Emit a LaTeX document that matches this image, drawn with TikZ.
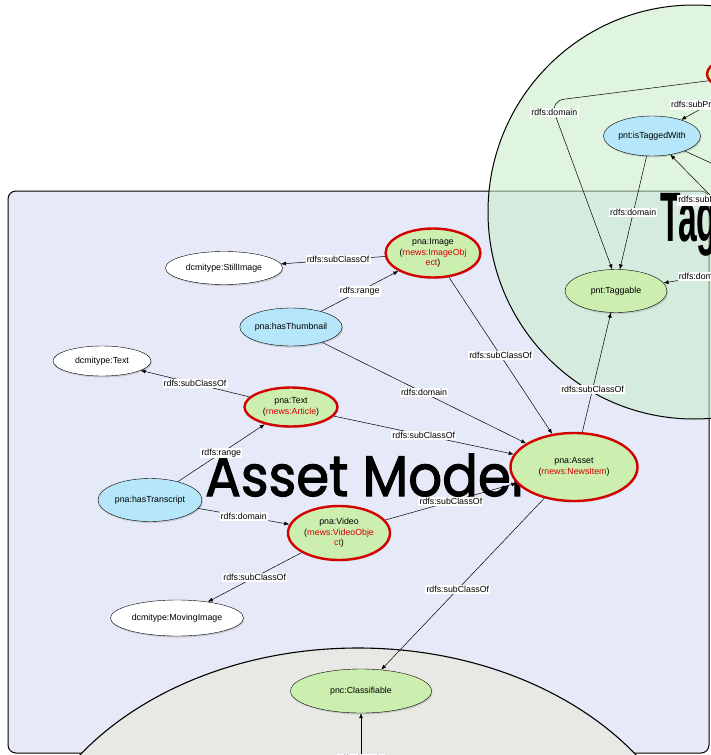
\documentclass[tikz,border=0pt]{standalone}
\usepackage{fontspec}
\setmainfont{Liberation Sans}
\newfontfamily\titlefont[FakeBold=2]{Poppins}
\usetikzlibrary{positioning,shapes.geometric,arrows.meta,shadows}

\definecolor{clsgreen}{HTML}{CCEEAF}
\definecolor{propblue}{HTML}{B5E6F9}
\definecolor{rnred}{HTML}{D40000}
\definecolor{boxfill}{HTML}{E6E9F7}
\definecolor{grayfill}{HTML}{E8E9E5}
\definecolor{taggreen}{HTML}{C8EEC8}
\newcommand\rnw[1]{\textcolor{rnred}{#1}}

\begin{document}
\begin{tikzpicture}[x=1pt,y=-1pt,
  every node/.style={font=\fontsize{8.8}{10.5}\selectfont},
  dshadow/.style={drop shadow={shadow xshift=1pt,shadow yshift=-1.5pt,opacity=.3}},
  sz/.style 2 args={minimum width=#1,minimum height=#2},
  cls/.style={ellipse,draw,fill=clsgreen,inner sep=0pt,align=center,dshadow},
  rnode/.style={cls,draw=rnred,line width=2.4pt},
  prop/.style={cls,fill=propblue},
  ext/.style={cls,fill=white},
  lbl/.style={fill=white,draw=none,inner sep=1.2pt},
  conn/.style={-{Latex[length=5pt,width=4pt]},line width=.5pt}]
  \useasboundingbox (0,0) rectangle (711,755);
  \clip (0,0) rectangle (711,755);
  \fill[white] (0,0) rectangle (711,755);

  % --- Regions ---
  \draw[fill=boxfill,rounded corners=8pt,line width=1pt] (8,191) rectangle (709,753);
  \draw[fill=grayfill,line width=1.1pt] (358,904) ellipse [x radius=342,y radius=256];
  \draw[fill=taggreen,fill opacity=.55,line width=1pt] (694,212) ellipse [x radius=206,y radius=207];

  % --- Region titles ---
  \node[font=\titlefont\fontsize{57}{57}\selectfont,anchor=base west,inner sep=0pt] (AssetTitle) at (205,496) {\scalebox{0.93}[1]{Asset Model}};
  \node[font=\bfseries\fontsize{70}{70}\selectfont,anchor=base west,inner sep=0pt] (TagTitle) at (660,241) {\scalebox{0.48}[1]{Tagging}};

  % --- Asset model classes ---
  \node[rnode,sz={93}{49}] (Img) at (433,253) {pna:Image\\(\rnw{rnews:ImageObj}\\\rnw{ect})};
  \node[ext,sz={117}{33}] (Still) at (224,268) {dcmitype:StillImage};
  \node[prop,sz={98}{38}] (Thumb) at (291,327) {pna:hasThumbnail};
  \node[ext,sz={98}{30}] (DText) at (102,361) {dcmitype:Text};
  \node[rnode,sz={93}{39}] (Txt) at (291,407) {pna:Text\\(\rnw{rnews:Article})};
  \node[prop,sz={104}{43}] (Trans) at (150,500) {pna:hasTranscript};
  \node[rnode,sz={102}{54}] (Vid) at (339,533) {pna:Video\\(\rnw{rnews:VideoObje}\\\rnw{ct})};
  \node[ext,sz={133}{36}] (Moving) at (177,618) {dcmitype:MovingImage};
  \node[rnode,sz={127}{68}] (Asset) at (574,467) {pna:Asset\\(\rnw{rnews:NewsItem})};
  \node[cls,sz={141}{44}] (Classif) at (361,691) {pnc:Classifiable};

  % --- Tagging classes ---
  \node[cls,sz={102}{43}] (Tagg) at (616,291) {pnt:Taggable};
  \node[prop,sz={97}{40}] (Tagged) at (652,136) {pnt:isTaggedWith};
  \node[rnode,sz={80}{36}] (TagRed) at (747,74) {};

  % --- Off-picture ends ---
  \coordinate (SubPropA) at (735,90);
  \coordinate (SubPropB) at (760,246);
  \coordinate (TagOut) at (770,190);
  \coordinate (DomC) at (740,270);
  \coordinate (ClsSrc) at (361,800);
  \coordinate (DomBend) at (550,101);

  % --- Asset model edges ---
  \draw[conn] (Img) -- node[lbl,pos=.45] {rdfs:subClassOf} (Still);
  \draw[conn] (Thumb) -- node[lbl] {rdfs:range} (Img);
  \draw[conn] (Img) -- node[lbl] {rdfs:subClassOf} (Asset);
  \draw[conn] (Thumb) -- node[lbl] {rdfs:domain} (Asset);
  \draw[conn] (Txt) -- node[lbl] {rdfs:subClassOf} (DText);
  \draw[conn] (Txt) -- node[lbl] {rdfs:subClassOf} (Asset);
  \draw[conn] (Trans) -- node[lbl] {rdfs:range} (Txt);
  \draw[conn] (Trans) -- node[lbl] {rdfs:domain} (Vid);
  \draw[conn] (Vid) -- node[lbl] {rdfs:subClassOf} (Asset);
  \draw[conn] (Vid) -- node[lbl] {rdfs:subClassOf} (Moving);
  \draw[conn] (Asset) -- node[lbl,pos=.53] {rdfs:subClassOf} (Classif);
  \draw[conn] (ClsSrc) -- node[lbl,pos=.48] {rdfs:domain} (Classif);

  % --- Tagging edges ---
  \draw[conn] (Asset) -- node[lbl,pos=.36] {rdfs:subClassOf} (Tagg);
  \draw[conn] (Tagged.255) -- node[lbl] {rdfs:domain} (Tagg.80);
  \draw[conn,rounded corners=14pt] (TagRed.190) -- (DomBend) -- node[lbl,pos=.07] {rdfs:domain} (Tagg.100);
  \draw[conn] (SubPropA) -- node[lbl] {rdfs:subPropertyOf} (Tagged);
  \draw[conn] (SubPropB) -- node[lbl] {rdfs:subPropertyOf} (Tagged);
  \draw[conn] (Tagged) -- (TagOut);
  \draw[conn] (DomC) -- node[lbl] {rdfs:domain} (Tagg);
\end{tikzpicture}
\end{document}
